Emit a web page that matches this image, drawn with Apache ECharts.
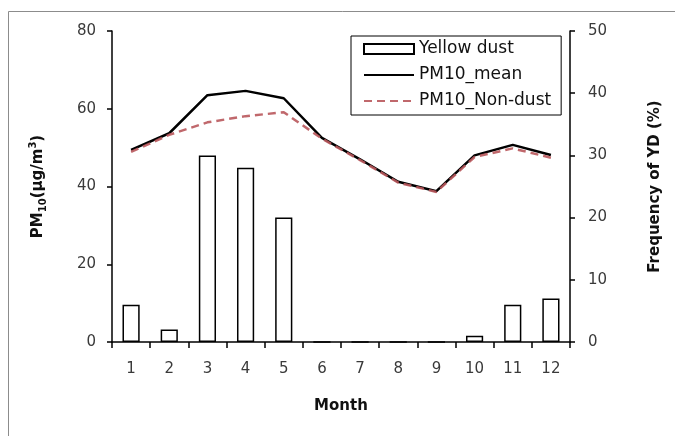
<!DOCTYPE html>
<html>
<head>
<meta charset="utf-8">
<script src="https://cdn.jsdelivr.net/npm/echarts@6/dist/echarts.min.js"></script>
<style>
html,body{margin:0;padding:0;background:#fff;}
#main{width:675px;height:436px;}
</style>
</head>
<body>
<div id="main"></div>
<script>
var months = ['1','2','3','4','5','6','7','8','9','10','11','12'];
var yellowDust = [6, 2, 30, 28, 20, 0, 0, 0, 0, 1, 6, 7];
var pm10Mean = [49.4, 53.7, 63.5, 64.6, 62.7, 52.5, 47.0, 41.2, 38.8, 48.0, 50.7, 48.1];
var pm10NonDust = [48.9, 53.3, 56.5, 58.1, 59.1, 52.3, 46.8, 41.0, 38.6, 47.6, 49.8, 47.4];
var leftTicks = [0, 20, 40, 60, 80];
var rightTicks = [0, 10, 20, 30, 40, 50];

var FONT = 'DejaVu Sans';
var chart = echarts.init(document.getElementById('main'), null, {renderer: 'canvas'});
var option = {
  backgroundColor: '#fff',
  animation: false,
  graphic: [{
    type: 'rect', z: -1,
    shape: {x: 8.5, y: 11.5, width: 700, height: 500},
    style: {fill: 'none', stroke: '#8c8c8c', lineWidth: 1}
  }],
  grid: {left: 112, right: 105, top: 31, bottom: 94},
  legend: {
    orient: 'vertical',
    left: 351, top: 36,
    padding: [3, 10, 4, 12],
    itemGap: 6,
    itemWidth: 50, itemHeight: 10,
    borderColor: '#000', borderWidth: 1,
    textStyle: {fontFamily: FONT, fontSize: 17, color: '#111', lineHeight: 20},
    data: [
      {name: 'Yellow dust', icon: 'rect'},
      {name: 'PM10_mean', itemStyle: {opacity: 0}},
      {name: 'PM10_Non-dust', itemStyle: {opacity: 0}}
    ]
  },
  xAxis: {
    type: 'category',
    data: months,
    boundaryGap: true,
    name: 'Month',
    nameLocation: 'middle',
    nameGap: 57,
    nameTextStyle: {fontFamily: FONT, fontSize: 15, fontWeight: 'bold', color: '#111'},
    axisLine: {lineStyle: {color: '#000', width: 1.5}},
    axisTick: {show: true, length: 6, lineStyle: {color: '#000', width: 1.5}},
    axisLabel: {fontFamily: FONT, fontSize: 15, color: '#3a3a3a', margin: 20}
  },
  yAxis: [{
    type: 'value',
    min: leftTicks[0], max: leftTicks[leftTicks.length - 1], interval: 20,
    position: 'left',
    name: '{m|PM}{s|10}{m|(μg/m}{p|3}{m|)}',
    nameLocation: 'middle',
    nameRotate: 90,
    nameGap: 64,
    nameTextStyle: {
      fontFamily: FONT, fontSize: 15, fontWeight: 'bold', color: '#111',
      rich: {
        m: {fontFamily: FONT, fontSize: 15, fontWeight: 'bold', color: '#111', lineHeight: 20},
        s: {fontFamily: FONT, fontSize: 10, fontWeight: 'bold', color: '#111', lineHeight: 20, verticalAlign: 'bottom', padding: [8, 0, 0, 0]},
        p: {fontFamily: FONT, fontSize: 10, fontWeight: 'bold', color: '#111', lineHeight: 20, verticalAlign: 'top', padding: [0, 0, 8, 0]}
      }
    },
    splitLine: {show: false},
    axisLine: {show: true, lineStyle: {color: '#000', width: 1.5}},
    axisTick: {show: true, length: 5, lineStyle: {color: '#000', width: 1.5}},
    axisLabel: {fontFamily: FONT, fontSize: 15, color: '#3a3a3a', margin: 16}
  }, {
    type: 'value',
    min: rightTicks[0], max: rightTicks[rightTicks.length - 1], interval: 10,
    position: 'right',
    name: 'Frequency of YD (%)',
    nameLocation: 'middle',
    nameRotate: 90,
    nameGap: 78,
    nameTextStyle: {fontFamily: FONT, fontSize: 15, fontWeight: 'bold', color: '#111'},
    splitLine: {show: false},
    axisLine: {show: true, lineStyle: {color: '#000', width: 1.5}},
    axisTick: {show: true, length: 5, lineStyle: {color: '#000', width: 1.5}},
    axisLabel: {fontFamily: FONT, fontSize: 15, color: '#3a3a3a', margin: 18}
  }],
  series: [{
    name: 'Yellow dust',
    type: 'bar',
    yAxisIndex: 1,
    data: yellowDust,
    barWidth: '45%',
    itemStyle: {color: '#fff', borderColor: '#000', borderWidth: 1.5}
  }, {
    name: 'PM10_mean',
    type: 'line',
    yAxisIndex: 0,
    data: pm10Mean,
    symbol: 'none',
    z: 3,
    itemStyle: {color: '#000'},
    lineStyle: {color: '#000', width: 2.5}
  }, {
    name: 'PM10_Non-dust',
    type: 'line',
    yAxisIndex: 0,
    data: pm10NonDust,
    symbol: 'none',
    z: 4,
    itemStyle: {color: '#b9585c'},
    lineStyle: {color: '#b9585c', width: 2.5, type: [8, 5], opacity: 0.9}
  }]
};
chart.setOption(option);
</script>
</body>
</html>
